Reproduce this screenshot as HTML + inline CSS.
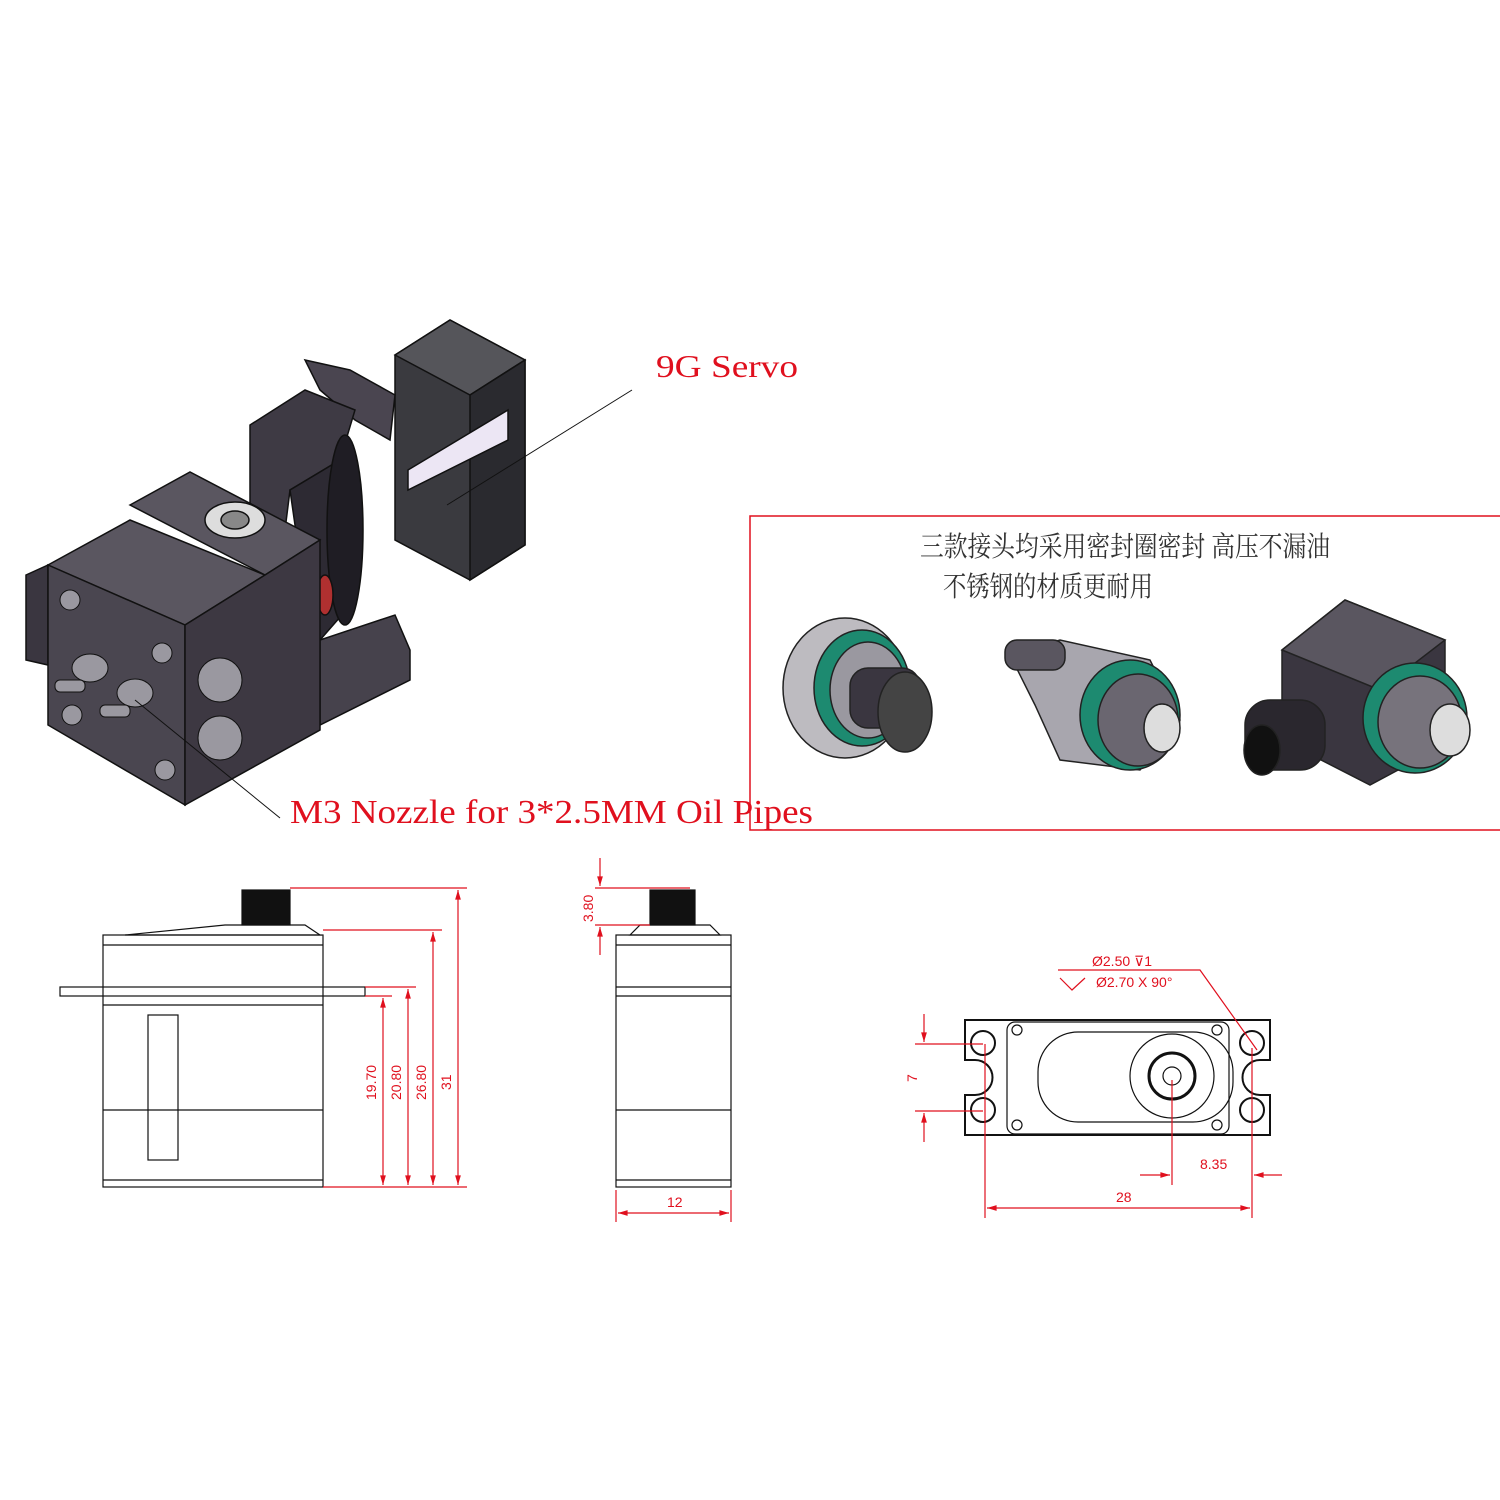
<!DOCTYPE html>
<html><head><meta charset="utf-8"><style>
html,body{margin:0;padding:0;background:#fff;}
svg{display:block}
.t{font-family:"Liberation Serif",serif;fill:#e0101e}
.d{font-family:"Liberation Sans",sans-serif;fill:#e0101e;font-size:14px}
</style></head><body>
<svg width="1500" height="1500" viewBox="0 0 1500 1500" xmlns="http://www.w3.org/2000/svg">
<defs>
<marker id="a" viewBox="0 0 10 10" refX="10" refY="5" markerWidth="10" markerHeight="8" orient="auto-start-reverse"><path d="M0,2 L10,5 L0,8z" fill="#e0101e"/></marker>
</defs>
<!-- 3D assembly -->
<g stroke="#111" stroke-width="1.5">
<polygon points="395,355 450,320 525,360 525,545 470,580 395,540" fill="#3a3a3f"/>
<polygon points="395,355 450,320 525,360 470,395" fill="#55555a"/>
<polygon points="470,395 525,360 525,545 470,580" fill="#2a2a2f"/>
<polygon points="408,470 508,410 508,440 408,490" fill="#ece6f4"/>
<polygon points="305,360 350,370 395,395 390,440 355,420 320,390" fill="#4a4550"/>
<polygon points="250,425 305,390 355,410 340,460 290,490 285,530 250,510" fill="#3e3a44"/>
<polygon points="290,490 340,460 355,600 320,640 300,560" fill="#2d2a33"/>
<ellipse cx="345" cy="530" rx="18" ry="95" fill="#1f1d24"/>
<ellipse cx="325" cy="595" rx="8" ry="20" fill="#b03030"/>
<polygon points="320,640 395,615 410,650 410,680 320,725" fill="#46424c"/>
<polygon points="130,505 190,472 320,540 265,575" fill="#5a5660"/>
<ellipse cx="235" cy="520" rx="30" ry="18" fill="#ddd"/>
<ellipse cx="235" cy="520" rx="14" ry="9" fill="#888"/>
<polygon points="48,565 130,520 265,575 185,625" fill="#5a5660"/>
<polygon points="26,575 48,565 48,665 26,660" fill="#3a3640"/>
<polygon points="48,565 185,625 185,805 48,725" fill="#4a4650"/>
<polygon points="185,625 265,575 320,540 320,730 185,805" fill="#3d3842"/>
</g>
<g fill="#9a98a0" stroke="#111">
<circle cx="70" cy="600" r="10"/><circle cx="162" cy="653" r="10"/><circle cx="72" cy="715" r="10"/><circle cx="165" cy="770" r="10"/>
<ellipse cx="90" cy="668" rx="18" ry="14"/><ellipse cx="135" cy="693" rx="18" ry="14"/>
<rect x="55" y="680" width="30" height="12" rx="5"/><rect x="100" y="705" width="30" height="12" rx="5"/>
<ellipse cx="220" cy="680" rx="22" ry="22"/><ellipse cx="220" cy="738" rx="22" ry="22"/>
</g>
<line x1="447" y1="505" x2="632" y2="390" stroke="#111"/>
<line x1="135" y1="700" x2="280" y2="818" stroke="#111"/>
<text class="t" x="656" y="377" font-size="32" textLength="142" lengthAdjust="spacingAndGlyphs">9G Servo</text>
<text class="t" x="290" y="823" font-size="34" textLength="523" lengthAdjust="spacingAndGlyphs">M3 Nozzle for 3*2.5MM Oil Pipes</text>
<rect x="750" y="516" width="760" height="314" fill="none" stroke="#e0101e" stroke-width="1.5"/>
<text x="920" y="556" font-size="28" fill="#333" textLength="410" lengthAdjust="spacingAndGlyphs" style="font-family:'Noto Serif CJK SC',serif">三款接头均采用密封圈密封 高压不漏油</text>
<text x="943" y="596" font-size="28" fill="#333" textLength="210" lengthAdjust="spacingAndGlyphs" style="font-family:'Noto Serif CJK SC',serif">不锈钢的材质更耐用</text>
<g stroke="#222" stroke-width="1.5">
<ellipse cx="845" cy="688" rx="62" ry="70" fill="#bdbbc0"/>
<ellipse cx="862" cy="688" rx="48" ry="58" fill="#1d8a70"/>
<ellipse cx="868" cy="690" rx="38" ry="48" fill="#9a98a0"/>
<rect x="850" y="668" width="70" height="60" rx="18" fill="#3a3640"/>
<ellipse cx="905" cy="712" rx="27" ry="40" fill="#444"/>
<polygon points="1010,655 1060,640 1150,660 1180,720 1140,770 1060,760 1035,705" fill="#a8a6ae"/>
<rect x="1005" y="640" width="60" height="30" rx="12" fill="#5a5660"/>
<ellipse cx="1130" cy="715" rx="50" ry="55" fill="#1d8a70"/>
<ellipse cx="1138" cy="720" rx="40" ry="46" fill="#6a6670"/>
<ellipse cx="1162" cy="728" rx="18" ry="24" fill="#ddd"/>
<polygon points="1282,650 1345,600 1445,640 1445,745 1370,785 1282,740" fill="#3a3640"/>
<polygon points="1282,650 1345,600 1445,640 1380,690" fill="#5a5660"/>
<rect x="1245" y="700" width="80" height="70" rx="25" fill="#2a272e"/>
<ellipse cx="1262" cy="750" rx="18" ry="25" fill="#111"/>
<ellipse cx="1415" cy="718" rx="52" ry="55" fill="#1d8a70"/>
<ellipse cx="1420" cy="722" rx="42" ry="46" fill="#77737c"/>
<ellipse cx="1450" cy="730" rx="20" ry="26" fill="#ddd"/>
</g>
<g fill="none" stroke="#111" stroke-width="1.2">
<rect x="103" y="935" width="220" height="252"/>
<line x1="103" y1="945" x2="323" y2="945"/>
<line x1="103" y1="1005" x2="323" y2="1005"/>
<line x1="103" y1="1110" x2="323" y2="1110"/>
<line x1="103" y1="1180" x2="323" y2="1180"/>
<rect x="60" y="987" width="305" height="9"/>
<rect x="148" y="1015" width="30" height="145"/>
<polygon points="125,935 225,925 305,925 320,935" />
<rect x="242" y="890" width="48" height="35" fill="#111"/>
<rect x="616" y="935" width="115" height="252"/>
<line x1="616" y1="945" x2="731" y2="945"/>
<line x1="616" y1="987" x2="731" y2="987"/>
<line x1="616" y1="996" x2="731" y2="996"/>
<line x1="616" y1="1110" x2="731" y2="1110"/>
<line x1="616" y1="1180" x2="731" y2="1180"/>
<polygon points="630,935 640,925 710,925 720,935"/>
<rect x="650" y="890" width="45" height="35" fill="#111"/>
<path d="M965,1020 H1270 V1060 H1260 A10,10 0 0 0 1260,1095 H1270 V1135 H965 V1095 H975 A10,10 0 0 0 975,1060 H965 Z" stroke-width="2"/>
<circle cx="983" cy="1043" r="12" stroke-width="2"/><circle cx="983" cy="1110" r="12" stroke-width="2"/>
<circle cx="1252" cy="1043" r="12" stroke-width="2"/><circle cx="1252" cy="1110" r="12" stroke-width="2"/>
<rect x="1007" y="1022" width="222" height="112" rx="8"/>
<rect x="1038" y="1032" width="195" height="90" rx="40"/>
<circle cx="1172" cy="1076" r="42"/><circle cx="1172" cy="1076" r="23" stroke-width="3"/><circle cx="1172" cy="1076" r="9"/>
<circle cx="1017" cy="1030" r="5"/><circle cx="1217" cy="1030" r="5"/><circle cx="1017" cy="1125" r="5"/><circle cx="1217" cy="1125" r="5"/>
</g>
<g stroke="#e0101e" stroke-width="1.2" fill="none">
<line x1="290" y1="888" x2="467" y2="888"/><line x1="323" y1="930" x2="442" y2="930"/>
<line x1="365" y1="987" x2="416" y2="987"/><line x1="365" y1="996" x2="392" y2="996"/>
<line x1="323" y1="1187" x2="467" y2="1187"/>
<line x1="458" y1="890" x2="458" y2="1185" marker-start="url(#a)" marker-end="url(#a)"/>
<line x1="433" y1="932" x2="433" y2="1185" marker-start="url(#a)" marker-end="url(#a)"/>
<line x1="408" y1="989" x2="408" y2="1185" marker-start="url(#a)" marker-end="url(#a)"/>
<line x1="383" y1="998" x2="383" y2="1185" marker-start="url(#a)" marker-end="url(#a)"/>
<line x1="595" y1="888" x2="690" y2="888"/><line x1="595" y1="925" x2="650" y2="925"/>
<line x1="600" y1="858" x2="600" y2="886" marker-end="url(#a)"/><line x1="600" y1="955" x2="600" y2="927" marker-end="url(#a)"/>
<line x1="616" y1="1190" x2="616" y2="1222"/><line x1="731" y1="1190" x2="731" y2="1222"/>
<line x1="618" y1="1213" x2="729" y2="1213" marker-start="url(#a)" marker-end="url(#a)"/>
<line x1="915" y1="1044" x2="983" y2="1044"/><line x1="915" y1="1111" x2="983" y2="1111"/>
<line x1="924" y1="1014" x2="924" y2="1042" marker-end="url(#a)"/><line x1="924" y1="1142" x2="924" y2="1113" marker-end="url(#a)"/>
<line x1="985" y1="1044" x2="985" y2="1218"/><line x1="1252" y1="1048" x2="1252" y2="1218"/>
<line x1="1172" y1="1080" x2="1172" y2="1185"/>
<line x1="987" y1="1208" x2="1250" y2="1208" marker-start="url(#a)" marker-end="url(#a)"/>
<line x1="1140" y1="1175" x2="1170" y2="1175" marker-end="url(#a)"/><line x1="1282" y1="1175" x2="1254" y2="1175" marker-end="url(#a)"/>
<polyline points="1058,970 1200,970 1257,1050"/>
<polyline points="1060,978 1072,990 1085,978"/>
</g>
<g class="d">
<text transform="translate(376,1100) rotate(-90)">19.70</text>
<text transform="translate(401,1100) rotate(-90)">20.80</text>
<text transform="translate(426,1100) rotate(-90)">26.80</text>
<text transform="translate(451,1090) rotate(-90)">31</text>
<text transform="translate(593,922) rotate(-90)">3.80</text>
<text x="667" y="1207">12</text>
<text transform="translate(917,1082) rotate(-90)">7</text>
<text x="1116" y="1202">28</text>
<text x="1200" y="1169">8.35</text>
<text x="1092" y="966">Ø2.50 ⊽1</text>
<text x="1096" y="987">Ø2.70 X 90°</text>
</g>
</svg>
</body></html>
